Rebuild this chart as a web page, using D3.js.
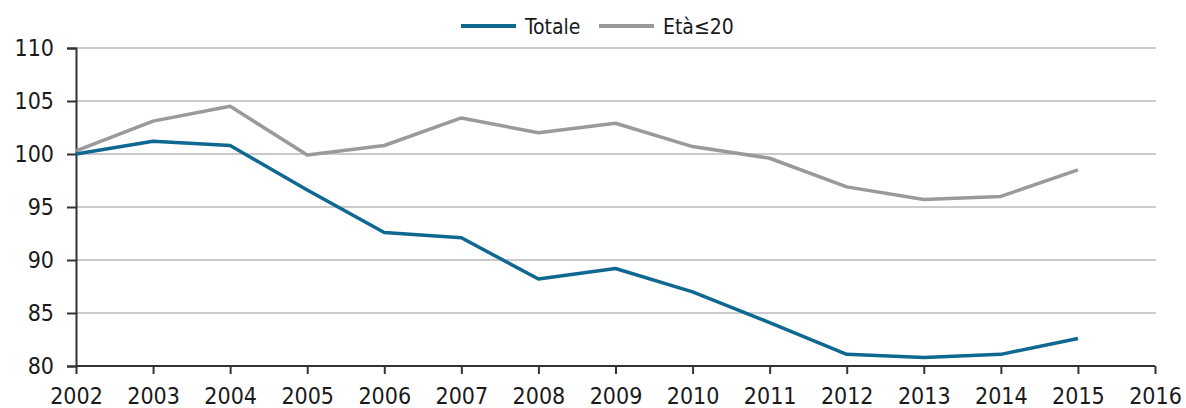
<!DOCTYPE html>
<html>
<head>
<meta charset="utf-8">
<script src="https://cdn.jsdelivr.net/npm/d3@7"></script>
<style>
  body { margin: 0; background: #fff; }
  text { font-family: "DejaVu Sans Condensed", "DejaVu Sans", sans-serif; fill: #1a1a1a; }
</style>
</head>
<body>
<div id="line"></div>
<script>
// data
var years = [2002, 2003, 2004, 2005, 2006, 2007, 2008, 2009, 2010, 2011, 2012, 2013, 2014, 2015];
var totale = [100.0, 101.2, 100.8, 96.6, 92.6, 92.1, 88.2, 89.2, 87.0, 84.1, 81.1, 80.8, 81.1, 82.6];
var eta20 = [100.3, 103.1, 104.5, 99.9, 100.8, 103.4, 102.0, 102.9, 100.7, 99.6, 96.9, 95.7, 96.0, 98.5];
var yTicks = [80, 85, 90, 95, 100, 105, 110];
var xTicks = [2002, 2003, 2004, 2005, 2006, 2007, 2008, 2009, 2010, 2011, 2012, 2013, 2014, 2015, 2016];
var seriesNames = ["Totale", "Età≤20"];
var seriesColors = ["#0e6891", "#9a9a9c"];

var margin = { top: 48, right: 30, bottom: 42, left: 76 },
  width = 1186 - margin.left - margin.right,
  height = 408 - margin.top - margin.bottom;

var svg = d3.select("#line")
  .append("svg")
  .attr("width", 1186)
  .attr("height", 408)
  .append("g")
  .attr("transform", "translate(" + margin.left + "," + margin.top + ")");

var x = d3.scaleLinear().domain([2002, 2016]).range([0, 1079]);
var y = d3.scaleLinear().domain([80, 110]).range([318, 0]);

// gridlines
svg.append("g")
  .selectAll("line")
  .data(yTicks.filter(function (d) { return d > 80; }))
  .enter().append("line")
  .attr("x1", 0).attr("x2", x(2016) + 1)
  .attr("y1", function (d) { return y(d); })
  .attr("y2", function (d) { return y(d); })
  .attr("stroke", "#b8b8bb")
  .attr("stroke-width", 1.5);

// y axis
var yAxis = svg.append("g")
  .call(d3.axisLeft(y).tickValues(yTicks).tickSize(9).tickPadding(13));
yAxis.select(".domain").attr("stroke", "#333").attr("stroke-width", 2);
yAxis.selectAll(".tick line").attr("stroke", "#333").attr("stroke-width", 2);
yAxis.selectAll("text").attr("font-size", 23).style("fill", "#1a1a1a")
  .attr("font-family", "DejaVu Sans Condensed, DejaVu Sans, sans-serif");

// x axis
var xAxis = svg.append("g")
  .attr("transform", "translate(0," + y(80) + ")")
  .call(d3.axisBottom(x).tickValues(xTicks).tickFormat(d3.format("d")).tickSize(8).tickPadding(14));
xAxis.select(".domain").attr("stroke", "#333").attr("stroke-width", 2).attr("d", "M0,0H" + x(2016));
xAxis.selectAll(".tick line").attr("stroke", "#333").attr("stroke-width", 2);
xAxis.selectAll("text").attr("font-size", 23).style("fill", "#1a1a1a")
  .attr("font-family", "DejaVu Sans Condensed, DejaVu Sans, sans-serif");

var line = d3.line()
  .x(function (d, i) { return x(years[i]); })
  .y(function (d) { return y(d); });

[eta20, totale].forEach(function (vals, k) {
  svg.append("path")
    .datum(vals)
    .attr("fill", "none")
    .attr("stroke", k == 0 ? seriesColors[1] : seriesColors[0])
    .attr("stroke-width", 3.5)
    .attr("stroke-linejoin", "round")
    .attr("d", line);
});

// legend
var legend = d3.select("svg").append("g").attr("transform", "translate(461,26)");
var legX = [0, 138];
seriesNames.forEach(function (name, i) {
  legend.append("line")
    .attr("x1", legX[i]).attr("x2", legX[i] + 55)
    .attr("y1", 0).attr("y2", 0)
    .attr("stroke", seriesColors[i]).attr("stroke-width", 4);
  legend.append("text")
    .attr("x", legX[i] + 64).attr("y", 8)
    .attr("font-size", 21)
    .attr("font-family", "DejaVu Sans Condensed, DejaVu Sans, sans-serif")
    .text(name);
});
</script>
</body>
</html>
